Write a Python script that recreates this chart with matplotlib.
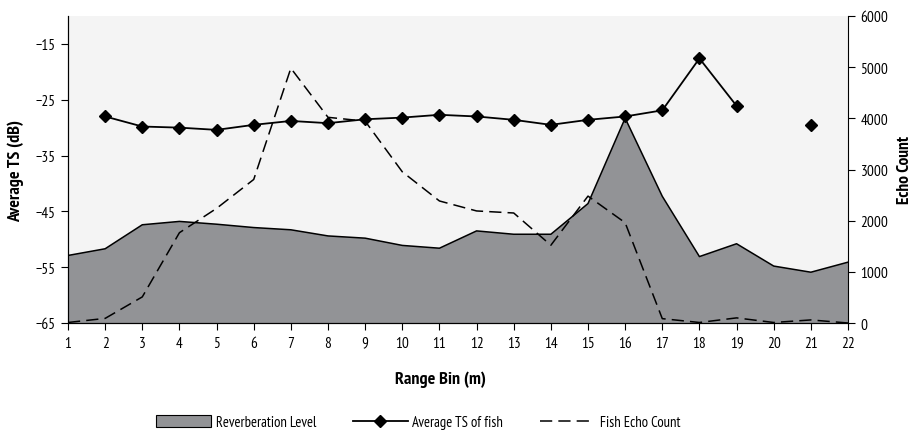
import matplotlib
matplotlib.use("Agg")
import matplotlib.pyplot as plt
from matplotlib.patches import Patch
from matplotlib.lines import Line2D
import numpy as np

plt.rcParams['font.family'] = ['PT Sans Narrow', 'DejaVu Sans']

# Data
range_bin = np.arange(1, 23)
reverb_db = [-52.9, -51.7, -47.4, -46.8, -47.3, -47.9, -48.3, -49.4, -49.8, -51.1, -51.6,
             -48.5, -49.1, -49.1, -43.6, -28.3, -42.3, -53.1, -50.8, -54.8, -55.9, -54.1]
ts_fish = [np.nan, -28.0, -29.8, -30.0, -30.4, -29.5, -28.8, -29.2, -28.5, -28.2, -27.7,
           -28.0, -28.6, -29.5, -28.6, -28.0, -26.9, -17.6, -26.1, np.nan, -29.5, np.nan]
echo_count = [10, 90, 510, 1765, 2240, 2805, 4980, 4020, 3945, 2955, 2385,
              2190, 2150, 1520, 2480, 1960, 85, 10, 100, 10, 60, 0]

fig = plt.figure(figsize=(9.15, 4.35), dpi=100)
ax = fig.add_axes([68/915, 1-324/435, 780/915, 307/435])
ax2 = ax.twinx()

ax.set_facecolor('#f4f4f4')
fill_col = '#929396'

# Reverberation level (area, left axis)
ax.fill_between(range_bin, -65, reverb_db, facecolor=fill_col, edgecolor='none', zorder=1)
ax.plot(range_bin, reverb_db, color='black', lw=1.1, zorder=2)

# Echo count (dashed, right axis)
ax2.plot(range_bin, echo_count, color='black', lw=1.1, dashes=(8, 4), zorder=2)

# Average TS (left axis scale, drawn on top)
ax2.plot(range_bin, ts_fish, color='black', lw=1.3, marker='D', markersize=6,
         transform=ax.transData, zorder=3)

ax.set_xlim(1, 22)
ax.set_ylim(-65, -10)
ax2.set_ylim(0, 6000)
ax.set_xticks(range_bin)
ax.set_yticks(np.arange(-65, -14, 10))
ax2.set_yticks(np.arange(0, 6001, 1000))

for a in (ax, ax2):
    a.spines['top'].set_visible(False)
    a.tick_params(labelsize=11, length=5, width=0.8, direction='out', pad=4)
ax.spines['right'].set_visible(False)

ax.set_ylabel('Average TS (dB)', fontsize=13, fontweight='bold', labelpad=8)
ax2.set_ylabel('Echo Count', fontsize=12.5, fontweight='bold', labelpad=6)
ax.set_xlabel('Range Bin (m)', fontsize=13, fontweight='bold', labelpad=15, x=0.478)

handles = [Patch(facecolor=fill_col, edgecolor='black', lw=0.8),
           Line2D([], [], color='black', lw=1.3, marker='D', markersize=6),
           Line2D([], [], color='black', lw=1.1, dashes=(8, 4))]
labels = ['Reverberation Level', 'Average TS of fish', 'Fish Echo Count']
fig.legend(handles, labels, loc='center', bbox_to_anchor=(418/915, 1-423/435), ncol=3,
           frameon=False, fontsize=10.5, handlelength=3.8, handleheight=0.85,
           columnspacing=2.5, handletextpad=0.3)

fig.savefig('out.png', dpi=100)
